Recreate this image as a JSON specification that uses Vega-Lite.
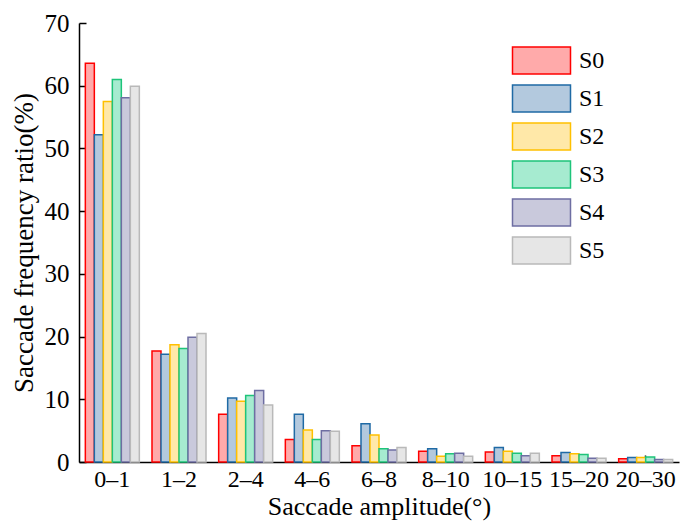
{
  "$schema": "https://vega.github.io/schema/vega-lite/v6.json",
  "width": 600,
  "height": 439,
  "autosize": {"type": "none"},
  "padding": {"left": 79, "top": 23, "right": 2, "bottom": 63},
  "config": {
    "view": {"stroke": null},
    "font": "Times New Roman, Liberation Serif, serif",
    "axis": {"labelFont": "Times New Roman, Liberation Serif, serif", "titleFont": "Times New Roman, Liberation Serif, serif"},
    "legend": {"labelFont": "Times New Roman, Liberation Serif, serif", "titleFont": "Times New Roman, Liberation Serif, serif"}
  },
  "data": {"values": [
    {"amp": "0–1", "s": "S0", "v": 63.6}, {"amp": "0–1", "s": "S1", "v": 52.2}, {"amp": "0–1", "s": "S2", "v": 57.5}, {"amp": "0–1", "s": "S3", "v": 61.0}, {"amp": "0–1", "s": "S4", "v": 58.1}, {"amp": "0–1", "s": "S5", "v": 59.9},
    {"amp": "1–2", "s": "S0", "v": 17.7}, {"amp": "1–2", "s": "S1", "v": 17.2}, {"amp": "1–2", "s": "S2", "v": 18.7}, {"amp": "1–2", "s": "S3", "v": 18.1}, {"amp": "1–2", "s": "S4", "v": 19.9}, {"amp": "1–2", "s": "S5", "v": 20.5},
    {"amp": "2–4", "s": "S0", "v": 7.6}, {"amp": "2–4", "s": "S1", "v": 10.2}, {"amp": "2–4", "s": "S2", "v": 9.7}, {"amp": "2–4", "s": "S3", "v": 10.6}, {"amp": "2–4", "s": "S4", "v": 11.4}, {"amp": "2–4", "s": "S5", "v": 9.1},
    {"amp": "4–6", "s": "S0", "v": 3.6}, {"amp": "4–6", "s": "S1", "v": 7.6}, {"amp": "4–6", "s": "S2", "v": 5.1}, {"amp": "4–6", "s": "S3", "v": 3.6}, {"amp": "4–6", "s": "S4", "v": 5.0}, {"amp": "4–6", "s": "S5", "v": 4.9},
    {"amp": "6–8", "s": "S0", "v": 2.6}, {"amp": "6–8", "s": "S1", "v": 6.1}, {"amp": "6–8", "s": "S2", "v": 4.3}, {"amp": "6–8", "s": "S3", "v": 2.1}, {"amp": "6–8", "s": "S4", "v": 1.9}, {"amp": "6–8", "s": "S5", "v": 2.3},
    {"amp": "8–10", "s": "S0", "v": 1.7}, {"amp": "8–10", "s": "S1", "v": 2.1}, {"amp": "8–10", "s": "S2", "v": 0.9}, {"amp": "8–10", "s": "S3", "v": 1.3}, {"amp": "8–10", "s": "S4", "v": 1.4}, {"amp": "8–10", "s": "S5", "v": 0.9},
    {"amp": "10–15", "s": "S0", "v": 1.6}, {"amp": "10–15", "s": "S1", "v": 2.3}, {"amp": "10–15", "s": "S2", "v": 1.7}, {"amp": "10–15", "s": "S3", "v": 1.4}, {"amp": "10–15", "s": "S4", "v": 1.0}, {"amp": "10–15", "s": "S5", "v": 1.4},
    {"amp": "15–20", "s": "S0", "v": 1.0}, {"amp": "15–20", "s": "S1", "v": 1.5}, {"amp": "15–20", "s": "S2", "v": 1.3}, {"amp": "15–20", "s": "S3", "v": 1.2}, {"amp": "15–20", "s": "S4", "v": 0.6}, {"amp": "15–20", "s": "S5", "v": 0.6},
    {"amp": "20–30", "s": "S0", "v": 0.5}, {"amp": "20–30", "s": "S1", "v": 0.7}, {"amp": "20–30", "s": "S2", "v": 0.7}, {"amp": "20–30", "s": "S3", "v": 0.8}, {"amp": "20–30", "s": "S4", "v": 0.4}, {"amp": "20–30", "s": "S5", "v": 0.4}
  ]},
  "mark": {"type": "bar", "strokeWidth": 1.5},
  "encoding": {
    "x": {
      "field": "amp", "type": "nominal",
      "sort": ["0–1", "1–2", "2–4", "4–6", "6–8", "8–10", "10–15", "15–20", "20–30"],
      "scale": {"paddingInner": 0.19, "paddingOuter": 0.095},
      "axis": {
        "title": "Saccade amplitude(°)", "titleFontSize": 26, "titleFontWeight": "normal", "titleColor": "black", "titlePadding": 2,
        "labelAngle": 0, "labelFontSize": 24, "labelColor": "black", "labelPadding": 12,
        "domainColor": "black", "domainWidth": 1.5,
        "tickColor": "black", "tickWidth": 1.5, "tickSize": -7
      }
    },
    "xOffset": {"field": "s", "type": "nominal", "scale": {"paddingInner": 0, "paddingOuter": 0}},
    "y": {
      "field": "v", "type": "quantitative",
      "scale": {"domain": [0, 70], "nice": false},
      "axis": {
        "title": "Saccade frequency ratio(%)", "titleFontSize": 27, "titleFontWeight": "normal", "titleColor": "black", "titlePadding": 6,
        "values": [0, 10, 20, 30, 40, 50, 60, 70], "grid": false,
        "labelFontSize": 25, "labelColor": "black", "labelPadding": 17,
        "domainColor": "black", "domainWidth": 1.5,
        "tickColor": "black", "tickWidth": 1.5, "tickSize": -7
      }
    },
    "fill": {
      "field": "s", "type": "nominal",
      "scale": {"range": ["#ffaaaa", "#b3c9de", "#ffe8a8", "#a6ebd0", "#c9c9dc", "#e6e6e6"]},
      "legend": {
        "title": null, "orient": "none", "legendX": 448, "legendY": 23, "padding": 0,
        "symbolType": "M-2.148,-1H2.148V1H-2.148Z", "symbolSize": 729, "symbolStrokeWidth": 1.5,
        "labelFontSize": 24, "labelColor": "black", "labelOffset": 23, "rowPadding": 5
      }
    },
    "stroke": {
      "field": "s", "type": "nominal",
      "scale": {"range": ["#ff0000", "#1f6aa5", "#ffc000", "#1ec47a", "#6e6ea2", "#b9b9b9"]}
    }
  }
}
